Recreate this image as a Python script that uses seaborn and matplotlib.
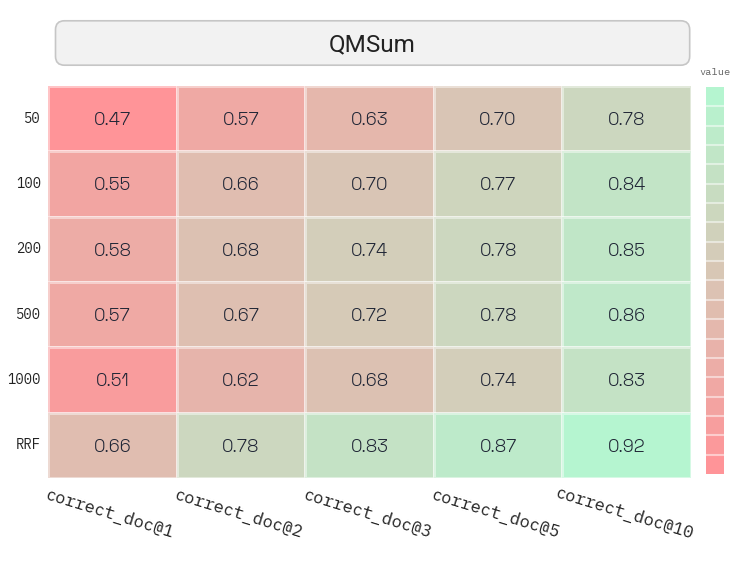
import numpy as np
import pandas as pd
import matplotlib
matplotlib.use("Agg")
import matplotlib.pyplot as plt
import seaborn as sns
from matplotlib.colors import LinearSegmentedColormap, ListedColormap, Normalize
from matplotlib.patches import FancyBboxPatch
import matplotlib as mpl

title = "QMSum"
rows = ["50", "100", "200", "500", "1000", "RRF"]
cols = ["correct_doc@1", "correct_doc@2", "correct_doc@3", "correct_doc@5", "correct_doc@10"]
v50 = [0.47, 0.57, 0.63, 0.70, 0.78]
v100 = [0.55, 0.66, 0.70, 0.77, 0.84]
v200 = [0.58, 0.68, 0.74, 0.78, 0.85]
v500 = [0.57, 0.67, 0.72, 0.78, 0.86]
v1000 = [0.51, 0.62, 0.68, 0.74, 0.83]
vrrf = [0.66, 0.78, 0.83, 0.87, 0.92]

df = pd.DataFrame([v50, v100, v200, v500, v1000, vrrf], index=rows, columns=cols)

sns.set_theme(style="white")
plt.rcParams["font.family"] = ["IBM Plex Mono", "DejaVu Sans Mono"]

low, high = "#ff9498", "#b5f5d0"
cmap = LinearSegmentedColormap.from_list("rg", [low, high])
vmin, vmax = df.values.min(), df.values.max()

fig = plt.figure(figsize=(7.4, 5.62), dpi=100)
ax = fig.add_axes([0.0649, 0.1495, 0.8689, 0.6975])
sns.heatmap(df, ax=ax, cmap=cmap, vmin=vmin, vmax=vmax, annot=True, fmt=".2f",
            cbar=False, linewidths=2, linecolor=(1, 1, 1, 0.45),
            annot_kws={"fontsize": 13, "color": "#1f2535"})
for t in ax.texts:
    t.set_fontfamily("Space Grotesk")
    t.set_fontweight("medium")
    t.set_fontsize(13)
    t.set_va("center_baseline")
ax.tick_params(axis="both", length=0)
ax.set_xlabel("")
ax.set_ylabel("")
ax.set_yticklabels(rows, rotation=0, fontfamily="IBM Plex Mono", fontsize=10, color="#222222")
ax.set_xticklabels(cols, rotation=-17, ha="center", rotation_mode="anchor",
                   fontfamily="IBM Plex Mono", fontsize=12.3, color="#222222")
for t in ax.get_xticklabels():
    t.set_va("top")
ax.tick_params(axis="x", pad=20)
ax.tick_params(axis="y", pad=5)

# colorbar
cax = fig.add_axes([0.954, 0.1566, 0.024, 0.6886])
nseg = 20
seg_cmap = ListedColormap(cmap(np.linspace(0, 1, nseg)))
cb = fig.colorbar(mpl.cm.ScalarMappable(norm=Normalize(vmin, vmax), cmap=seg_cmap),
                  cax=cax, drawedges=True)
cb.outline.set_visible(False)
cb.dividers.set_color((1, 1, 1, 0.5))
cb.dividers.set_linewidth(1.5)
cax.set_yticks([])
fig.text(0.966, 0.871, "value", ha="center", va="center", fontsize=7.5,
         fontfamily="IBM Plex Mono", color="#666666")

# title box
box = FancyBboxPatch((0.075, 0.884), 0.857, 0.079, boxstyle="round,pad=0,rounding_size=0.012",
                     transform=fig.transFigure, facecolor="#f2f2f2", edgecolor="#c6c6c6",
                     linewidth=1.2, mutation_aspect=740/562)
fig.patches.append(box)
fig.text(0.5035, 0.921, title, ha="center", va="center", fontsize=17.5,
         fontfamily="Roboto", color="#222222")

fig.savefig("out.png", dpi=100)
